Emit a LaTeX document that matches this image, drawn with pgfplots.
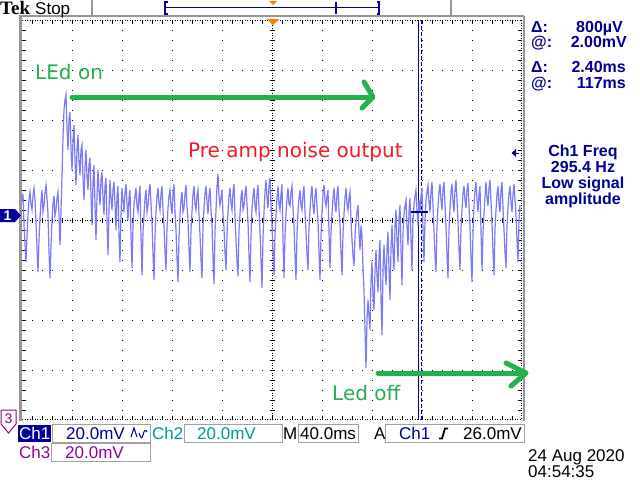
\documentclass[border=0pt]{standalone}
\usepackage{pgfplots}
\pgfplotsset{compat=1.18}
\usepackage{fontspec}
\setmainfont{Liberation Sans}
\newfontfamily\dejavu{DejaVu Sans}
\newfontfamily\tekserif{Liberation Serif}
\definecolor{navy}{RGB}{0,0,150}
\definecolor{tealc}{RGB}{0,150,150}
\definecolor{purp}{RGB}{150,0,150}
\definecolor{pgreen}{RGB}{34,177,76}
\definecolor{pred}{RGB}{237,28,36}
\definecolor{trace}{RGB}{122,122,255}
\definecolor{tekorange}{RGB}{255,128,0}
\definecolor{framegray}{RGB}{150,150,150}
\definecolor{boxgray}{RGB}{160,160,160}
\begin{document}
\begin{tikzpicture}[x=1pt,y=1pt]
\path[use as bounding box, fill=white] (0,0) rectangle (640,-480);
% graticule
\begin{scope}[line width=1pt, black]
\foreach \x in {72,122,172,222,322,372,422,472} \draw[dash pattern=on 1pt off 9pt] (\x,-20)--(\x,-420);
\foreach \y in {70,120,170,270,320,370} \draw[dash pattern=on 1pt off 9pt] (22,-\y)--(522,-\y);
\draw[dash pattern=on 1pt off 1.5pt] (22,-220)--(522,-220);
\draw[dash pattern=on 1pt off 1.5pt] (272,-20)--(272,-420);
\draw[dash pattern=on 1pt off 1.5pt] (22,-20.5)--(522,-20.5);
\draw[dash pattern=on 1pt off 1.5pt] (22,-419.5)--(522,-419.5);
\draw[dash pattern=on 1pt off 1.5pt] (521.5,-20)--(521.5,-420);
\foreach \x in {32,42,...,512} {\draw[line width=0.8pt] (\x,-217.5)--(\x,-222.5);
  \draw[line width=0.8pt] (\x,-20)--(\x,-24); \draw[line width=0.8pt] (\x,-420)--(\x,-416);}
\foreach \y in {30,40,...,410} {\draw[line width=0.8pt] (269.5,-\y)--(274.5,-\y);
  \draw[line width=0.8pt] (22,-\y)--(26,-\y); \draw[line width=0.8pt] (522,-\y)--(518,-\y);}
\end{scope}
% frame
\draw[framegray, line width=3pt] (20.5,-16)--(20.5,-421);
\draw[framegray, line width=2pt] (19,-16)--(524,-16);
\draw[framegray, line width=2pt] (523.5,-16)--(523.5,-421);
\draw[framegray, line width=1.5pt] (92,0)--(92,-16);
\draw[framegray, line width=1.5pt] (451,0)--(451,-16);
% cursors
\draw[navy, line width=1.2pt] (418.5,-20)--(418.5,-420);
\draw[navy, line width=1.2pt, dash pattern=on 4pt off 2pt] (421.5,-20)--(421.5,-420);
\begin{axis}[at={(22pt,-420pt)}, anchor=south west, scale only axis,
  width=500pt, height=400pt, xmin=22, xmax=522, ymin=-420, ymax=-20, hide axis]
\addplot[trace, line width=1.2pt, mark=none] coordinates {
(22,-200)(23,-194)(24,-225)(25,-244)(26,-262)(27,-236)(28,-215)(29,-200)(30,-192)(31,-204)
(32,-210)(33,-196)(34,-188)(35,-200)(36,-222)(37,-248)(38,-272)(39,-240)(40,-218)(41,-202)
(42,-190)(43,-212)(44,-206)(45,-193)(46,-185)(47,-198)(48,-214)(49,-252)(50,-278)(51,-246)
(52,-220)(53,-204)(54,-196)(55,-216)(56,-210)(57,-198)(58,-192)(59,-214)(60,-245)(61,-212)
(62,-175)(63,-138)(64,-110)(65,-100)(66,-95)(67,-128)(68,-150)(69,-120)(70,-112)(71,-148)
(72,-170)(73,-140)(74,-125)(75,-160)(76,-185)(77,-150)(78,-135)(79,-162)(80,-175)(81,-150)
(82,-145)(83,-178)(84,-200)(85,-168)(86,-150)(87,-176)(88,-190)(89,-164)(90,-158)(91,-196)
(92,-225)(93,-182)(94,-165)(95,-205)(96,-240)(97,-196)(98,-170)(99,-190)(100,-205)(101,-180)
(102,-172)(103,-198)(104,-215)(105,-186)(106,-178)(107,-222)(108,-255)(109,-210)(110,-180)(111,-198)
(112,-210)(113,-190)(114,-182)(115,-204)(116,-230)(117,-196)(118,-186)(119,-236)(120,-262)(121,-214)
(122,-188)(123,-200)(124,-212)(125,-192)(126,-184)(127,-204)(128,-220)(129,-198)(130,-190)(131,-236)
(132,-268)(133,-226)(134,-205)(135,-196)(136,-188)(137,-206)(138,-212)(139,-196)(140,-186)(141,-238)
(142,-275)(143,-232)(144,-215)(145,-198)(146,-190)(147,-212)(148,-206)(149,-192)(150,-184)(151,-204)
(152,-222)(153,-254)(154,-280)(155,-236)(156,-212)(157,-196)(158,-188)(159,-204)(160,-210)(161,-194)
(162,-186)(163,-210)(164,-226)(165,-252)(166,-270)(167,-228)(168,-208)(169,-196)(170,-190)(171,-206)
(172,-214)(173,-194)(174,-184)(175,-212)(176,-230)(177,-258)(178,-282)(179,-238)(180,-215)(181,-200)
(182,-192)(183,-212)(184,-208)(185,-194)(186,-185)(187,-206)(188,-220)(189,-250)(190,-272)(191,-230)
(192,-212)(193,-194)(194,-186)(195,-204)(196,-210)(197,-196)(198,-190)(199,-214)(200,-235)(201,-260)
(202,-278)(203,-226)(204,-208)(205,-194)(206,-186)(207,-202)(208,-214)(209,-196)(210,-188)(211,-210)
(212,-225)(213,-258)(214,-284)(215,-232)(216,-210)(217,-186)(218,-174)(219,-196)(220,-205)(221,-198)
(222,-190)(223,-214)(224,-228)(225,-252)(226,-270)(227,-234)(228,-212)(229,-196)(230,-188)(231,-204)
(232,-210)(233,-192)(234,-184)(235,-216)(236,-240)(237,-262)(238,-276)(239,-230)(240,-214)(241,-198)
(242,-190)(243,-210)(244,-206)(245,-194)(246,-186)(247,-204)(248,-222)(249,-256)(250,-282)(251,-236)
(252,-210)(253,-196)(254,-188)(255,-206)(256,-212)(257,-194)(258,-185)(259,-208)(260,-230)(261,-262)
(262,-288)(263,-238)(264,-212)(265,-192)(266,-180)(267,-198)(268,-208)(269,-186)(270,-178)(271,-204)
(272,-225)(273,-252)(274,-275)(275,-236)(276,-215)(277,-198)(278,-186)(279,-204)(280,-210)(281,-194)
(282,-184)(283,-240)(284,-278)(285,-236)(286,-214)(287,-198)(288,-188)(289,-204)(290,-206)(291,-192)
(292,-186)(293,-208)(294,-226)(295,-256)(296,-280)(297,-234)(298,-212)(299,-198)(300,-190)(301,-206)
(302,-210)(303,-194)(304,-186)(305,-212)(306,-232)(307,-254)(308,-270)(309,-228)(310,-210)(311,-194)
(312,-186)(313,-206)(314,-214)(315,-196)(316,-188)(317,-206)(318,-220)(319,-252)(320,-280)(321,-236)
(322,-212)(323,-194)(324,-185)(325,-200)(326,-206)(327,-196)(328,-190)(329,-232)(330,-268)(331,-232)
(332,-214)(333,-198)(334,-188)(335,-204)(336,-212)(337,-194)(338,-186)(339,-210)(340,-225)(341,-252)
(342,-275)(343,-234)(344,-214)(345,-198)(346,-188)(347,-204)(348,-210)(349,-198)(350,-192)(351,-220)
(352,-240)(353,-256)(354,-266)(355,-236)(356,-222)(357,-212)(358,-205)(359,-232)(360,-250)(361,-226)
(362,-235)(363,-268)(364,-290)(365,-330)(366,-368)(367,-320)(368,-300)(369,-316)(370,-330)(371,-280)
(372,-262)(373,-296)(374,-310)(375,-270)(376,-250)(377,-276)(378,-292)(379,-256)(380,-240)(381,-300)
(382,-335)(383,-270)(384,-245)(385,-268)(386,-285)(387,-250)(388,-232)(389,-270)(390,-300)(391,-248)
(392,-225)(393,-252)(394,-270)(395,-226)(396,-210)(397,-240)(398,-262)(399,-220)(400,-205)(401,-250)
(402,-285)(403,-232)(404,-215)(405,-206)(406,-200)(407,-226)(408,-245)(409,-212)(410,-198)(411,-240)
(412,-270)(413,-220)(414,-205)(415,-196)(416,-190)(417,-210)(418,-225)(419,-200)(420,-212)(421,-196)
(422,-188)(423,-230)(424,-262)(425,-220)(426,-200)(427,-192)(428,-185)(429,-202)(430,-212)(431,-192)
(432,-182)(433,-206)(434,-230)(435,-256)(436,-272)(437,-226)(438,-206)(439,-192)(440,-184)(441,-200)
(442,-210)(443,-190)(444,-182)(445,-204)(446,-226)(447,-256)(448,-278)(449,-230)(450,-208)(451,-192)
(452,-184)(453,-202)(454,-212)(455,-190)(456,-180)(457,-200)(458,-222)(459,-250)(460,-270)(461,-228)
(462,-210)(463,-194)(464,-186)(465,-200)(466,-208)(467,-190)(468,-183)(469,-206)(470,-228)(471,-258)
(472,-282)(473,-232)(474,-206)(475,-190)(476,-182)(477,-200)(478,-212)(479,-194)(480,-186)(481,-232)
(482,-270)(483,-232)(484,-214)(485,-196)(486,-182)(487,-198)(488,-206)(489,-188)(490,-180)(491,-202)
(492,-222)(493,-252)(494,-275)(495,-230)(496,-210)(497,-194)(498,-186)(499,-204)(500,-212)(501,-190)
(502,-182)(503,-208)(504,-230)(505,-252)(506,-268)(507,-226)(508,-208)(509,-194)(510,-186)(511,-202)
(512,-212)(513,-194)(514,-184)(515,-200)(516,-215)(517,-240)(518,-262)(519,-220)(520,-205)
};
\end{axis}
% crosshair
\draw[navy, line width=1.3pt] (411,-212)--(428,-212);
% markers
\fill[navy] (0,-209)--(15,-209)--(21,-215.5)--(15,-222)--(0,-222)--cycle;
\node[white, inner sep=0] at (7.5,-215.5) {\fontsize{14}{14}\selectfont\bfseries 1};
\draw[purp, line width=1pt] (1,-410)--(16,-410)--(16,-424)--(8.5,-433)--(1,-424)--cycle;
\node[purp, inner sep=0] at (8.5,-419) {\fontsize{14}{14}\selectfont 3};
\fill[tekorange] (267,-19)--(279,-19)--(273,-25)--cycle;
\fill[tekorange] (269,-1)--(277,-1)--(273,-5)--cycle;
% record bar
\draw[navy, line width=1.2pt] (165,-7.5)--(379,-7.5);
\draw[navy, line width=1.2pt] (167.5,-2)--(165,-2)--(165,-14)--(167.5,-14);
\draw[navy, line width=1.2pt] (376.5,-2)--(379,-2)--(379,-14)--(376.5,-14);
\draw[navy, line width=1.2pt] (336,-2)--(336,-14);
\fill[navy] (511.5,-153)--(516,-149)--(516,-157)--cycle;
\draw[navy, line width=1pt] (515,-153)--(518.5,-153);
% top text
\node[anchor=base west, inner sep=0] at (0,-14) {\fontsize{19}{19}\selectfont\tekserif\bfseries Tek};
\node[anchor=base west, inner sep=0] at (35,-14) {\fontsize{17}{17}\selectfont Stop};
% right panel
\begin{scope}[navy, every node/.style={inner sep=0}, font=\fontsize{16}{16}\selectfont\bfseries]
\node[anchor=base west] at (531,-32) {Δ:};
\node[anchor=base east] at (623,-32) {800µV};
\node[anchor=base west] at (531,-47) {@:};
\node[anchor=base east] at (627,-47) {2.00mV};
\node[anchor=base west] at (531,-72) {Δ:};
\node[anchor=base east] at (626,-72) {2.40ms};
\node[anchor=base west] at (531,-88) {@:};
\node[anchor=base east] at (626,-88) {117ms};
\node[anchor=base] at (583,-156) {Ch1 Freq};
\node[anchor=base] at (583,-172) {295.4 Hz};
\node[anchor=base] at (583,-188) {Low signal};
\node[anchor=base] at (583,-204) {amplitude};
\end{scope}
% bottom status
\begin{scope}[every node/.style={inner sep=0, anchor=base west}, font=\fontsize{17}{17}\selectfont]
\fill[navy] (18,-425) rectangle (51,-442);
\draw[boxgray, line width=1pt] (52,-424) rectangle (150,-442);
\draw[boxgray, line width=1pt] (184,-424) rectangle (282,-442);
\draw[boxgray, line width=1pt] (298,-424) rectangle (358,-442);
\draw[boxgray, line width=1pt] (385,-424) rectangle (524,-442);
\draw[boxgray, line width=1pt] (51,-443) rectangle (150,-461);
\node[white] at (19,-439) {Ch1};
\node[navy] at (66,-439) {20.0mV};
\draw[navy, line width=1pt] (131,-437)--(134,-428)--(137,-437) (139,-433) .. controls (141,-439) and (142,-439) .. (143,-435) .. controls (144,-430) and (146,-429) .. (147,-432);
\node[tealc] at (152,-439) {Ch2};
\node[tealc] at (197,-439) {20.0mV};
\node at (283,-439) {M};
\node at (300,-439) {40.0ms};
\node at (374,-439) {A};
\node[navy] at (399,-439) {Ch1};
\draw[line width=1.8pt] (439,-438.5)--(442,-438.5)--(445,-428.5)--(448,-428.5);
\node at (463,-439) {26.0mV};
\node[purp] at (19,-458) {Ch3};
\node[purp] at (65,-458) {20.0mV};
\node at (528,-461) {24 Aug 2020};
\node at (528,-477) {04:54:35};
\end{scope}
% annotations
\draw[pgreen, line width=5pt, line cap=round] (72,-97)--(372,-97);
\draw[pgreen, line width=5pt, line cap=round, line join=round] (364,-82)--(373,-97)--(362,-108);
\draw[pgreen, line width=5pt, line cap=round] (378,-373)--(525,-373);
\draw[pgreen, line width=5pt, line cap=round, line join=round] (506,-363)--(526,-373)--(511,-386);
\node[pgreen, anchor=base west, inner sep=0] at (35,-79) {\fontsize{20}{20}\selectfont\dejavu LEd on};
\node[pred, anchor=base west, inner sep=0] at (188,-157) {\fontsize{20}{20}\selectfont\dejavu Pre amp noise output};
\node[pgreen, anchor=base west, inner sep=0] at (332,-400) {\fontsize{20}{20}\selectfont\dejavu Led off};
\end{tikzpicture}
\end{document}
